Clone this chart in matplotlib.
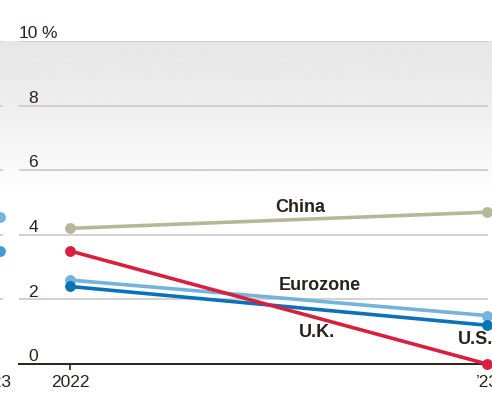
import numpy as np
import matplotlib
matplotlib.use('Agg')
import matplotlib.pyplot as plt
import matplotlib.transforms as mtransforms

plt.rcParams['font.family'] = ['Liberation Sans', 'DejaVu Sans']

years = [2022, 2023]
year_labels = ['2022', '\u201923']
china = [4.2, 4.7]
eurozone = [2.6, 1.5]
us = [2.4, 1.2]
uk = [3.5, 0.0]
# end points of the neighbouring panel, only a sliver shows at the left edge
prev_eurozone = [4.55]
prev_us = [3.5]
y_ticks = [0, 2, 4, 6, 8, 10]

ink = '#2a211b'
grid_c = '#c9c9c9'
W, H = 492, 393

fig = plt.figure(figsize=(W / 100, H / 100), dpi=100)

# grey gradient band at the top of the plot area
bg = fig.add_axes([0, (H - 196) / H, 1, (196 - 41) / H], zorder=0)
t = np.linspace(0, 1, 200)[:, None]
shade = 0.905 + 0.095 * t ** 1.3
bg.imshow(np.repeat(shade, 2, axis=1), cmap='gray', vmin=0, vmax=1,
          aspect='auto', extent=[0, 1, 0, 1], origin='upper')
bg.axis('off')

# main panel
x0, x1 = 19, 488
px_per_year = 417
xmin = 2022 - (70 - x0) / px_per_year
xmax = xmin + (x1 - x0) / px_per_year
ax = fig.add_axes([x0 / W, (H - 364) / H, (x1 - x0) / W, 323 / H], zorder=2)
ax.patch.set_alpha(0)
ax.set_xlim(xmin, xmax)
ax.set_ylim(0, 10)

for v in y_ticks[1:]:
    ax.axhline(v, color=grid_c, lw=1.2, zorder=1)
ax.axhline(0, color=ink, lw=1.4, xmax=1.02, clip_on=False, zorder=3)

series = [(china, '#b7b797'), (eurozone, '#74b3dc'),
          (us, '#0c72b7'), (uk, '#d91f3e')]
for vals, c in series:
    ax.plot(years, vals, color=c, lw=2.6, marker='o', ms=6.8,
            clip_on=False, zorder=4, solid_capstyle='round')

lab = dict(fontsize=13, fontweight='bold', color=ink, ha='center',
           va='center', zorder=5)
ax.text(2022.552, 4.86, 'China', **lab)
ax.text(2022.60, 2.43, 'Eurozone', **lab)
ax.text(2022.592, 0.96, 'U.K.', **lab)
ax.text(2022.972, 0.77, 'U.S.', clip_on=False, **lab)

off = mtransforms.ScaledTranslation(0, 2 / 72, fig.dpi_scale_trans)
tr = mtransforms.blended_transform_factory(ax.transAxes, ax.transData) + off
for v in y_ticks:
    ax.text((38 - x0) / (x1 - x0), v, str(v), transform=tr, ha='right',
            va='baseline', fontsize=12.5, color=ink)
ax.text((41 - x0) / (x1 - x0), 10, '%', transform=tr, ha='left',
        va='baseline', fontsize=12.5, color=ink)

ax.set_yticks([])
ax.set_xticks(years)
ax.set_xticklabels(year_labels, fontsize=12.5, color=ink)
ax.tick_params(axis='x', length=4, width=1.2, color=ink, pad=4)
for s in ax.spines.values():
    s.set_visible(False)

# sliver of the neighbouring panel
nx1 = 3
nax = fig.add_axes([(nx1 - 469) / W, (H - 364) / H, 469 / W, 323 / H],
                   zorder=1)
nax.patch.set_alpha(0)
nax.set_xlim(2023 + nx1 / px_per_year - 469 / px_per_year,
             2023 + nx1 / px_per_year)
nax.set_ylim(0, 10)
for v in y_ticks[1:]:
    nax.axhline(v, color=grid_c, lw=1.2)
nax.plot([2023], prev_eurozone, 'o', color='#74b3dc', ms=6.8, clip_on=False)
nax.plot([2023], prev_us, 'o', color='#4a9ad0', ms=6.8, clip_on=False)
nax.set_yticks([])
nax.set_xticks([2023])
nax.set_xticklabels(['\u201923'], fontsize=12.5, color=ink)
nax.tick_params(axis='x', length=0, pad=8)
for s in nax.spines.values():
    s.set_visible(False)

fig.savefig('out.png', dpi=100)
